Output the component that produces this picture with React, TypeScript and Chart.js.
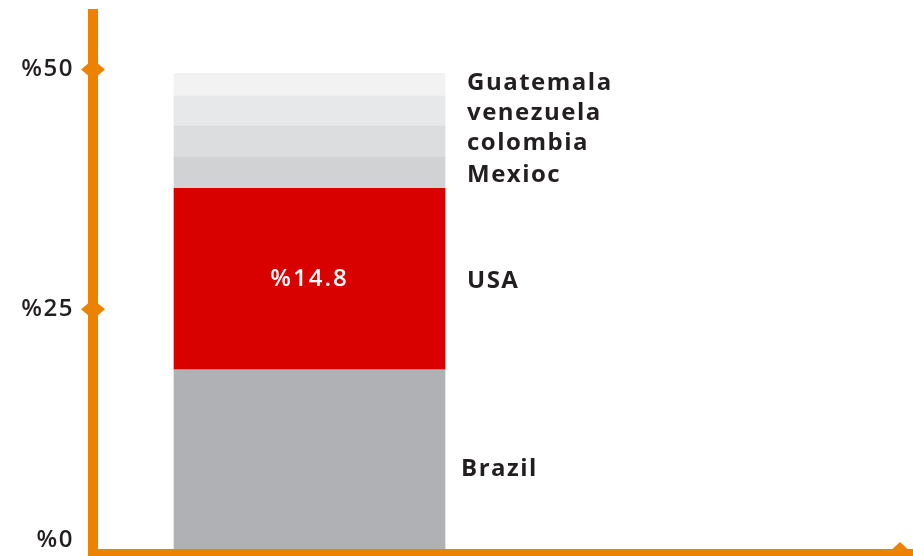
import React, { useEffect, useRef } from 'react';
import { Chart, registerables } from 'chart.js';

Chart.register(...registerables);

const categories = [''];
const countries = ['Brazil', 'USA', 'Mexioc', 'colombia', 'venezuela', 'Guatemala'];
const shares = [18.7, 18.9, 3.27, 3.24, 3.13, 2.37];
const valueLabels = ['', '%14.8', '', '', '', ''];
const colors = ['#b0b1b4', '#d90000', '#d1d2d3', '#dcddde', '#e7e8e9', '#f2f2f2'];
const yTicks = [0, 25, 50];
const yTickLabels = ['%0', '%25', '%50'];

const ORANGE = '#ed8100';
const TEXT = '#231f20';
const FONT = '"Open Sans", sans-serif';

function diamond(ctx: CanvasRenderingContext2D, cx: number, cy: number, hw: number, hh: number) {
  ctx.beginPath();
  ctx.moveTo(cx - hw, cy);
  ctx.lineTo(cx, cy - hh);
  ctx.lineTo(cx + hw, cy);
  ctx.lineTo(cx, cy + hh);
  ctx.closePath();
  ctx.fill();
}

const decorPlugin = {
  id: 'decor',
  afterDraw(chart: any, _args: any, opts: any) {
    const ctx: any = chart.ctx;
    const { left, bottom } = chart.chartArea;
    const yScale = chart.scales.y;
    const W = chart.width;
    const H = chart.height;
    const shift = opts.labelShift || {};
    ctx.save();
    // axes
    ctx.fillStyle = ORANGE;
    ctx.fillRect(left - 5, 9, 10, H - 9);
    ctx.fillRect(left - 5, bottom, W - left + 5, 10);
    diamond(ctx, W - 13, bottom + 5, 13, 12);
    yTicks.forEach((v) => {
      if (v === 0) return;
      diamond(ctx, left, yScale.getPixelForValue(v), 12, 10);
    });
    // tick labels
    ctx.fillStyle = TEXT;
    ctx.font = `600 24px ${FONT}`;
    ctx.letterSpacing = '1.5px';
    ctx.textAlign = 'right';
    ctx.textBaseline = 'middle';
    yTicks.forEach((v, i) => {
      const py = Math.min(yScale.getPixelForValue(v), bottom - 9);
      ctx.fillText(yTickLabels[i], left - 19, py);
    });
    // segment labels
    chart.data.datasets.forEach((ds: any, i: number) => {
      const el = chart.getDatasetMeta(i).data[0];
      if (!el) return;
      const props = el.getProps(['x', 'y', 'base', 'width'], true);
      const cy = (props.y + props.base) / 2 + 2;
      const s = shift[ds.label] || [0, 0];
      ctx.fillStyle = TEXT;
      ctx.font = `700 24px ${FONT}`;
      ctx.letterSpacing = '1.5px';
      ctx.textAlign = 'left';
      ctx.fillText(ds.label, props.x + props.width / 2 + 22 + s[0], cy + s[1]);
      if (valueLabels[i]) {
        ctx.fillStyle = '#ffffff';
        ctx.font = `600 24px ${FONT}`;
        ctx.letterSpacing = '2px';
        ctx.textAlign = 'center';
        ctx.fillText(valueLabels[i], props.x, cy - 2);
      }
    });
    ctx.restore();
  },
};

export default function App() {
  const ref = useRef<HTMLCanvasElement>(null);
  useEffect(() => {
    if (!ref.current) return;
    const chart = new Chart(ref.current, {
      type: 'bar',
      data: {
        labels: categories,
        datasets: countries.map((c, i) => ({
          label: c,
          data: [shares[i]],
          backgroundColor: colors[i],
          borderWidth: 0,
          barThickness: 271,
        })),
      },
      options: {
        animation: false,
        responsive: true,
        maintainAspectRatio: false,
        layout: { padding: { left: 93, right: 387, top: 12, bottom: 7 } },
        plugins: {
          legend: { display: false },
          tooltip: { enabled: false },
          decor: { labelShift: { Brazil: [-6, 8], Guatemala: [0, -3] } },
        } as any,
        scales: {
          x: { stacked: true, display: false },
          y: { stacked: true, display: false, min: 0, max: 56 },
        },
      },
      plugins: [decorPlugin],
    });
    return () => chart.destroy();
  }, []);
  return (
    <div style={{ position: 'fixed', left: 0, top: 0, width: 913, height: 556, background: '#fff' }}>
      <canvas ref={ref} />
    </div>
  );
}
